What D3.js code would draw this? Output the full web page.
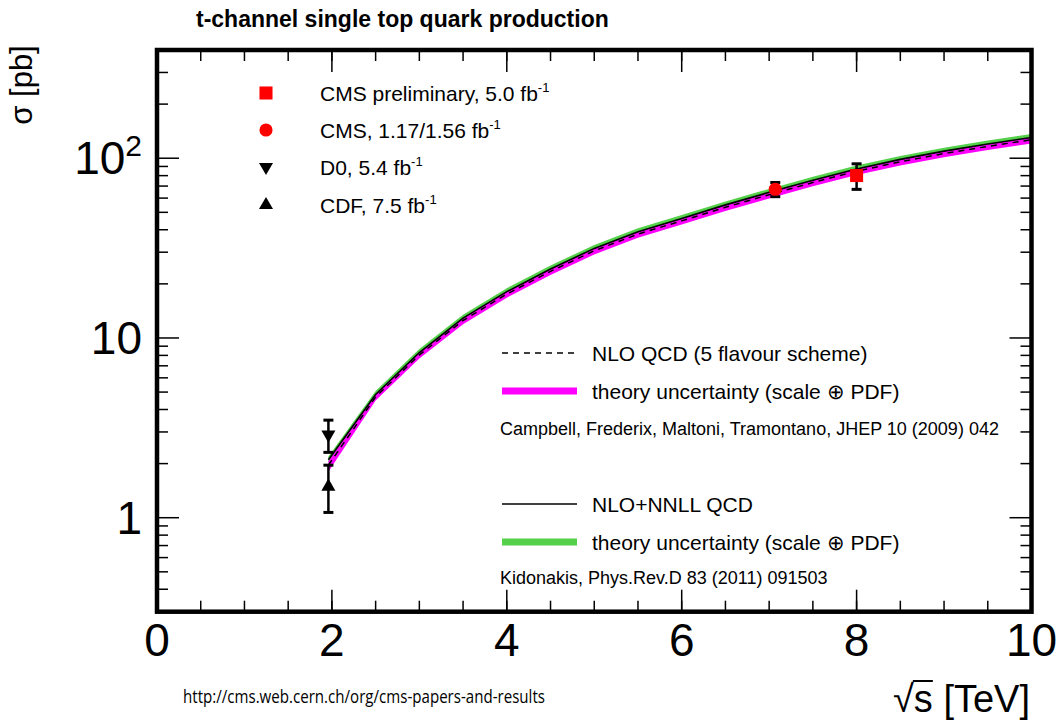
<!DOCTYPE html>
<html>
<head>
<meta charset="utf-8">
<style>
body {
  margin: 0;
  background: #fff;
}
svg text {
  font-family: "Liberation Sans", Arial, Helvetica, sans-serif;
  fill: #000;
}
.title { font-weight: bold; font-size: 23px; }
.ticklab { font-size: 46px; }
.leg { font-size: 21px; }
.cite { font-size: 18px; }
.url { font-family: "Open Sans", sans-serif; font-size: 18px; }
</style>
</head>
<body>
<script src="https://d3js.org/d3.v7.min.js"></script>
<script>
// theory curves (sqrt(s) in TeV, sigma in pb)
var energies = [1.96, 2.5, 3, 3.5, 4, 4.5, 5, 5.5, 6, 6.5, 7, 7.5, 8, 8.5, 9, 9.5, 10];
// NLO+NNLL (Kidonakis)
var nnll   = [2.10, 4.85, 8.30, 12.90, 18.10, 24.20, 31.50, 39.00, 46.20, 55.00, 64.60, 75.50, 87.20, 98.50, 109.5, 120.0, 130.5];
var nnllLo = [2.02, 4.66, 7.97, 12.38, 17.38, 23.23, 30.24, 37.44, 44.35, 52.80, 62.02, 72.48, 83.71, 94.56, 105.1, 115.2, 125.3];
var nnllHi = [2.19, 5.07, 8.67, 13.48, 18.91, 25.29, 32.92, 40.76, 48.28, 57.48, 67.51, 78.90, 91.12, 102.9, 114.4, 125.4, 136.4];
// NLO QCD, 5 flavour scheme (Campbell et al.)
var nlo    = [1.96, 4.70, 8.05, 12.51, 17.56, 23.47, 30.56, 37.83, 44.81, 53.35, 62.66, 73.24, 84.58, 95.55, 106.2, 116.4, 126.6];
var nloLo  = [1.80, 4.49, 7.68, 11.93, 16.74, 22.39, 29.14, 36.08, 42.74, 50.88, 59.76, 69.84, 80.66, 91.11, 101.3, 111.0, 120.7];
var nloHi  = [2.06, 4.83, 8.26, 12.84, 18.01, 24.08, 31.34, 38.81, 45.97, 54.73, 64.28, 75.12, 86.76, 98.01, 109.0, 119.4, 129.8];

// measurements
var measNames = ["CMS preliminary, 5.0 fb", "CMS, 1.17/1.56 fb", "D0, 5.4 fb", "CDF, 7.5 fb"];
var measE     = [8.0, 7.07, 1.96, 1.96];
var measXsec  = [80.1, 67.2, 2.90, 1.49];
var measErrUp = [13.0, 6.1, 0.59, 0.47];
var measErrDn = [13.0, 6.1, 0.59, 0.42];
var measShape = ["square", "circle", "down", "up"];
var measColor = ["#ff0000", "#ff0000", "#000", "#000"];

var xTickLabels = [0, 2, 4, 6, 8, 10];
var yTickLabels = [1, 10, 100];

var theoryNames = ["NLO QCD (5 flavour scheme)", "theory uncertainty (scale \u2295 PDF)",
                   "NLO+NNLL QCD", "theory uncertainty (scale \u2295 PDF)"];
var citeNames = ["Campbell, Frederix, Maltoni, Tramontano, JHEP 10 (2009) 042",
                 "Kidonakis, Phys.Rev.D 83 (2011) 091503"];

var W = 1057, H = 724;
// plot frame (note: "top" is reserved on window, so prefix these)
var pLeft = 157, pRight = 1031.5, pTop = 50, pBottom = 611.7;

var x = d3.scaleLinear().domain([0, 10]).range([pLeft, pRight]);
var y = d3.scaleLog().domain([0.3, 400]).range([pBottom, pTop]);

var svg = d3.select("body").append("svg")
    .attr("width", W)
    .attr("height", H);

svg.append("clipPath").attr("id", "plotclip")
  .append("rect")
    .attr("x", pLeft).attr("y", pTop)
    .attr("width", pRight - pLeft).attr("height", pBottom - pTop);

var pts = energies.map(function(e, i) { return i; });

var band = function(lo, hi) {
  return d3.area()
    .x(function(i) { return x(energies[i]); })
    .y0(function(i) { return y(lo[i]); })
    .y1(function(i) { return y(hi[i]); });
};
var line = function(v) {
  return d3.line()
    .x(function(i) { return x(energies[i]); })
    .y(function(i) { return y(v[i]); });
};

var plot = svg.append("g").attr("clip-path", "url(#plotclip)");

plot.append("path").datum(pts)
    .attr("d", band(nnllLo, nnllHi))
    .style("fill", "#55d04a");
plot.append("path").datum(pts)
    .attr("d", band(nloLo, nloHi))
    .style("fill", "#ff00ff");
plot.append("path").datum(pts)
    .attr("d", line(nlo))
    .style("fill", "none").style("stroke", "#000")
    .style("stroke-width", 1.5).style("stroke-dasharray", "6,5");
plot.append("path").datum(pts)
    .attr("d", line(nnll))
    .style("fill", "none").style("stroke", "#000")
    .style("stroke-width", 1.6);

// markers
var symbolFor = function(s) {
  if (s == "square") return d3.symbol(d3.symbolSquare, 170)();
  if (s == "circle") return d3.symbol(d3.symbolCircle, 135)();
  return d3.symbol(d3.symbolTriangle, 85)();
};
var rotFor = function(s) { return s == "down" ? " rotate(180)" : ""; };

var meas = svg.append("g");
measE.forEach(function(e, i) {
  var cx = x(e), yHi = y(measXsec[i] + measErrUp[i]), yLo = y(measXsec[i] - measErrDn[i]);
  meas.append("line")
      .attr("x1", cx).attr("x2", cx).attr("y1", yHi).attr("y2", yLo)
      .style("stroke", "#000").style("stroke-width", 2.5);
  [yHi, yLo].forEach(function(yy) {
    meas.append("line")
        .attr("x1", cx - 5).attr("x2", cx + 5).attr("y1", yy).attr("y2", yy)
        .style("stroke", "#000").style("stroke-width", 3);
  });
  meas.append("path")
      .attr("d", symbolFor(measShape[i]))
      .attr("transform", "translate(" + cx + "," + y(measXsec[i]) + ")" + rotFor(measShape[i]))
      .style("fill", measColor[i]);
});

// ticks, inward on all four sides
var xMinor = d3.range(0.5, 10, 0.5), xMajor = d3.range(2, 10, 2);
var yMajor = [1, 10, 100];
var yMinor = [0.3, 0.4, 0.5, 0.6, 0.7, 0.8, 0.9, 2, 3, 4, 5, 6, 7, 8, 9, 20, 30, 40, 50, 60, 70, 80, 90, 200, 300, 400];

var ticks = svg.append("g").style("stroke", "#000").style("stroke-width", 1.5);
var addX = function(vals, len) {
  vals.forEach(function(v) {
    ticks.append("line").attr("x1", x(v)).attr("x2", x(v)).attr("y1", pBottom).attr("y2", pBottom - len);
    ticks.append("line").attr("x1", x(v)).attr("x2", x(v)).attr("y1", pTop).attr("y2", pTop + len);
  });
};
var addY = function(vals, len) {
  vals.forEach(function(v) {
    ticks.append("line").attr("y1", y(v)).attr("y2", y(v)).attr("x1", pLeft).attr("x2", pLeft + len);
    ticks.append("line").attr("y1", y(v)).attr("y2", y(v)).attr("x1", pRight).attr("x2", pRight - len);
  });
};
addX(xMinor, 11); addX(xMajor, 22);
addY(yMinor, 11); addY(yMajor, 22);

svg.append("rect")
    .attr("x", pLeft).attr("y", pTop)
    .attr("width", pRight - pLeft).attr("height", pBottom - pTop)
    .style("fill", "none").style("stroke", "#000").style("stroke-width", 4.5);

// tick labels
svg.selectAll(".xlab").data(xTickLabels).enter().append("text")
    .attr("class", "ticklab")
    .attr("x", function(d) { return x(d); })
    .attr("y", 656)
    .attr("text-anchor", "middle")
    .text(function(d) { return d; });

yTickLabels.forEach(function(v) {
  var t = svg.append("text").attr("class", "ticklab")
      .attr("x", 142).attr("y", y(v) + 16).attr("text-anchor", "end");
  if (v == 100) {
    t.append("tspan").text("10");
    t.append("tspan").attr("dy", -18).style("font-size", "30px").text("2");
  } else {
    t.text(v);
  }
});

// titles
svg.append("text").attr("class", "title").attr("x", 196).attr("y", 27)
    .text("t-channel single top quark production");

svg.append("text")
    .attr("transform", "translate(32,85) rotate(-90)")
    .attr("text-anchor", "middle")
    .style("font-size", "31px")
    .text("\u03c3 [pb]");

var xt = svg.append("text").attr("x", 1030).attr("y", 712)
    .attr("text-anchor", "end").style("font-size", "38px")
    .text("\u221as [TeV]");
// overbar on the s of the square root
var sx0 = xt.node().getStartPositionOfChar(1).x,
    sx1 = xt.node().getEndPositionOfChar(1).x;
svg.append("line")
    .attr("x1", sx0 - 1).attr("x2", sx1)
    .attr("y1", 681).attr("y2", 681)
    .style("stroke", "#000").style("stroke-width", 2);

svg.append("text").attr("class", "url").attr("x", 183).attr("y", 703)
    .attr("textLength", 362).attr("lengthAdjust", "spacingAndGlyphs")
    .text("http://cms.web.cern.ch/org/cms-papers-and-results");

// legend: measurements
var legRows = [93, 130, 167, 205];
measNames.forEach(function(n, i) {
  svg.append("path")
      .attr("d", symbolFor(measShape[i]))
      .attr("transform", "translate(266," + legRows[i] + ")" + rotFor(measShape[i]))
      .style("fill", measColor[i]);
  var t = svg.append("text").attr("class", "leg").attr("x", 320).attr("y", legRows[i] + 7.5);
  t.append("tspan").text(n);
  t.append("tspan").attr("dy", -9).style("font-size", "13px").text("-1");
});

// legend: theory
var thRows = [353, 391, 504, 542];
var thStyle = [
  {stroke: "#000", width: 1.5, dash: "6,5"},
  {stroke: "#ff00ff", width: 7, dash: null},
  {stroke: "#000", width: 1.5, dash: null},
  {stroke: "#55d04a", width: 7, dash: null}
];
theoryNames.forEach(function(n, i) {
  svg.append("line")
      .attr("x1", 502).attr("x2", 577).attr("y1", thRows[i]).attr("y2", thRows[i])
      .style("stroke", thStyle[i].stroke)
      .style("stroke-width", thStyle[i].width)
      .style("stroke-dasharray", thStyle[i].dash);
  svg.append("text").attr("class", "leg").attr("x", 592).attr("y", thRows[i] + 7.5).text(n);
});
svg.append("text").attr("class", "cite").attr("x", 500).attr("y", 435).text(citeNames[0]);
svg.append("text").attr("class", "cite").attr("x", 500).attr("y", 584).text(citeNames[1]);
</script>
</body>
</html>
